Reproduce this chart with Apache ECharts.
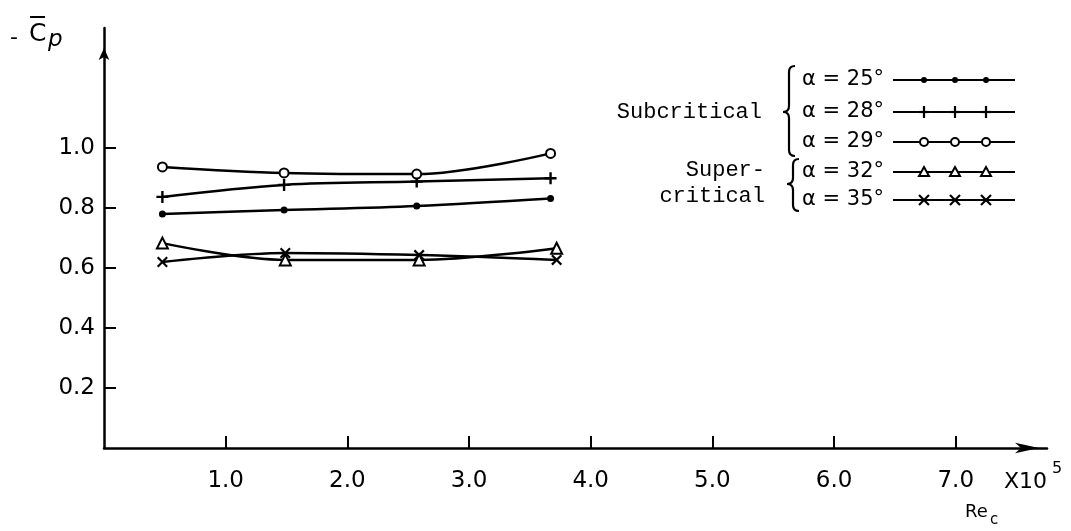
<!DOCTYPE html>
<html><head><meta charset="utf-8">
<script src="https://cdn.jsdelivr.net/npm/echarts@6/dist/echarts.min.js"></script>
<style>html,body{margin:0;padding:0;background:#fff}#c{width:1071px;height:531px}</style>
</head><body><div id="c"></div>
<script>
// ---- data (Re_c in units of 10^5, -Cp mean) ----
const reX   = [0.48, 1.48, 2.57, 3.67];
const reX2  = [0.48, 1.49, 2.59, 3.72];
const cp25  = [0.780, 0.793, 0.807, 0.832];
const cp28  = [0.837, 0.877, 0.888, 0.899];
const cp29  = [0.937, 0.917, 0.913, 0.982];
const cp32  = [0.683, 0.627, 0.627, 0.666];
const cp35  = [0.620, 0.650, 0.643, 0.627];
const xTicks = [1, 2, 3, 4, 5, 6, 7];
const yTicks = [0.2, 0.4, 0.6, 0.8, 1.0];
const legendLabels = ['α = 25°', 'α = 28°', 'α = 29°', 'α = 32°', 'α = 35°'];
const groupLabels = ['Subcritical', 'Super-', 'critical'];

const PLUS  = 'path://M4,0h2v4h4v2h-4v4h-2v-4h-4v-2h4z';
const CROSS = 'path://M1.4,0L5,3.6L8.6,0L10,1.4L6.4,5L10,8.6L8.6,10L5,6.4L1.4,10L0,8.6L3.6,5L0,1.4Z';

function pts(xs, ys) { return xs.map((x, i) => [x, ys[i]]); }
function ser(name, xs, ys, symbol, size, empty) {
  return {
    name, type: 'line', data: pts(xs, ys), smooth: 0.35,
    symbol, symbolSize: size, showSymbol: true,
    lineStyle: { color: '#000', width: 2.5 },
    itemStyle: empty ? { color: '#000', borderColor: '#000', borderWidth: 2.2 } : { color: '#000', borderWidth: 0 },
    z: empty ? 3 : 2
  };
}

const chart = echarts.init(document.getElementById('c'), null, { renderer: 'canvas' });

// legend drawn with graphic elements
const legY = [80, 112, 142, 172, 200];
const legMk = ['dot', 'plus', 'circle', 'tri', 'cross'];
const legMx = [924, 955, 986];
function marker(kind, cx, cy) {
  const k = { stroke: '#000', lineWidth: 2.2 };
  if (kind === 'dot') return [{ type: 'circle', shape: { cx, cy, r: 3 }, style: { fill: '#000' } }];
  if (kind === 'circle') return [{ type: 'circle', shape: { cx, cy, r: 4 }, style: { fill: '#fff', stroke: '#000', lineWidth: 2 } }];
  if (kind === 'tri') return [{ type: 'polygon', shape: { points: [[cx, cy - 5], [cx + 5, cy + 4], [cx - 5, cy + 4]] }, style: { fill: '#fff', stroke: '#000', lineWidth: 2 } }];
  if (kind === 'plus') return [
    { type: 'line', shape: { x1: cx - 5, y1: cy, x2: cx + 5, y2: cy }, style: k },
    { type: 'line', shape: { x1: cx, y1: cy - 6, x2: cx, y2: cy + 6 }, style: k }];
  return [
    { type: 'line', shape: { x1: cx - 5, y1: cy - 5, x2: cx + 5, y2: cy + 5 }, style: k },
    { type: 'line', shape: { x1: cx - 5, y1: cy + 5, x2: cx + 5, y2: cy - 5 }, style: k }];
}
function brace(x, y1, ym, y2) {
  const s = { stroke: '#000', lineWidth: 2.2, fill: null };
  return [
    { type: 'bezierCurve', shape: { x1: x + 6, y1: y1, cpx1: x, cpy1: y1, x2: x, y2: y1 + 6 }, style: s },
    { type: 'line', shape: { x1: x, y1: y1 + 6, x2: x, y2: ym - 6 }, style: s },
    { type: 'bezierCurve', shape: { x1: x, y1: ym - 6, cpx1: x, cpy1: ym, x2: x - 6, y2: ym }, style: s },
    { type: 'bezierCurve', shape: { x1: x - 6, y1: ym, cpx1: x, cpy1: ym, x2: x, y2: ym + 6 }, style: s },
    { type: 'line', shape: { x1: x, y1: ym + 6, x2: x, y2: y2 - 6 }, style: s },
    { type: 'bezierCurve', shape: { x1: x, y1: y2 - 6, cpx1: x, cpy1: y2, x2: x + 6, y2: y2 }, style: s }
  ];
}

const graphics = [];
legendLabels.forEach((t, i) => {
  const y = legY[i];
  graphics.push({ type: 'text', x: 802, y: y, style: { text: t, font: '21px "DejaVu Sans"', fill: '#000', textVerticalAlign: 'middle' } });
  graphics.push({ type: 'line', shape: { x1: 893, y1: y, x2: 1015, y2: y }, style: { stroke: '#000', lineWidth: 2.2 } });
  legMx.forEach(mx => marker(legMk[i], mx, y).forEach(g => graphics.push(g)));
});
brace(789, 66, 112, 156).forEach(g => graphics.push(g));
brace(793, 159, 184, 211).forEach(g => graphics.push(g));
graphics.push({ type: 'text', x: 762, y: 112, style: { text: groupLabels[0], font: '22px "Liberation Mono"', fill: '#000', textAlign: 'right', textVerticalAlign: 'middle' } });
graphics.push({ type: 'text', x: 765, y: 170, style: { text: groupLabels[1], font: '22px "Liberation Mono"', fill: '#000', textAlign: 'right', textVerticalAlign: 'middle' } });
graphics.push({ type: 'text', x: 765, y: 196, style: { text: groupLabels[2], font: '22px "Liberation Mono"', fill: '#000', textAlign: 'right', textVerticalAlign: 'middle' } });
// axis titles
graphics.push({ type: 'text', x: 10, y: 38, style: { text: '-', font: '22px "DejaVu Sans"', fill: '#000', textVerticalAlign: 'middle' } });
graphics.push({ type: 'text', x: 29, y: 34, style: { text: 'C', font: '25px "DejaVu Sans"', fill: '#000', textVerticalAlign: 'middle' } });
graphics.push({ type: 'line', shape: { x1: 30, y1: 17, x2: 45, y2: 17 }, style: { stroke: '#000', lineWidth: 2 } });
graphics.push({ type: 'text', x: 48, y: 40, style: { text: 'p', font: 'italic 23px "DejaVu Sans"', fill: '#000', textVerticalAlign: 'middle' } });
graphics.push({ type: 'text', x: 1004, y: 482, style: { text: 'X10', font: '22px "DejaVu Sans"', fill: '#000', textVerticalAlign: 'middle' } });
graphics.push({ type: 'text', x: 1052, y: 469, style: { text: '5', font: '16px "DejaVu Sans"', fill: '#000', textVerticalAlign: 'middle' } });
graphics.push({ type: 'text', x: 965, y: 512, style: { text: 'Re', font: '18px "DejaVu Sans"', fill: '#000', textVerticalAlign: 'middle' } });
graphics.push({ type: 'text', x: 990, y: 520, style: { text: 'c', font: '15px "DejaVu Sans"', fill: '#000', textVerticalAlign: 'middle' } });

chart.setOption({
  animation: false,
  backgroundColor: '#fff',
  grid: { left: 104, right: 24, top: 28, bottom: 83 },
  xAxis: {
    type: 'value', min: 0, max: 7.75, interval: 1,
    splitLine: { show: false },
    axisLine: { show: true, onZero: false, symbol: ['none', 'arrow'], symbolSize: [8, 24], symbolOffset: [0, -8], lineStyle: { color: '#000', width: 2.5 } },
    axisTick: { show: true, inside: true, length: 12, customValues: xTicks, lineStyle: { color: '#000', width: 2 } },
    axisLabel: { customValues: xTicks, margin: 22, color: '#000', fontSize: 23, fontFamily: 'DejaVu Sans', formatter: v => v.toFixed(1) }
  },
  yAxis: {
    type: 'value', min: 0, max: 1.4, interval: 0.2,
    splitLine: { show: false },
    axisLine: { show: true, onZero: false, symbol: ['none', 'arrow'], symbolSize: [8, 12], symbolOffset: [0, -20], lineStyle: { color: '#000', width: 2.5 } },
    axisTick: { show: true, inside: true, length: 12, customValues: yTicks, lineStyle: { color: '#000', width: 2 } },
    axisLabel: { customValues: yTicks, margin: 9, color: '#000', fontSize: 23, fontFamily: 'DejaVu Sans', formatter: v => v.toFixed(1) }
  },
  series: [
    ser('α = 25°', reX, cp25, 'circle', 7, false),
    ser('α = 28°', reX, cp28, PLUS, 12, false),
    ser('α = 29°', reX, cp29, 'emptyCircle', 9, true),
    ser('α = 32°', reX2, cp32, 'emptyTriangle', 11, true),
    ser('α = 35°', reX2, cp35, CROSS, 11, false)
  ],
  graphic: graphics
});
</script>
</body></html>
